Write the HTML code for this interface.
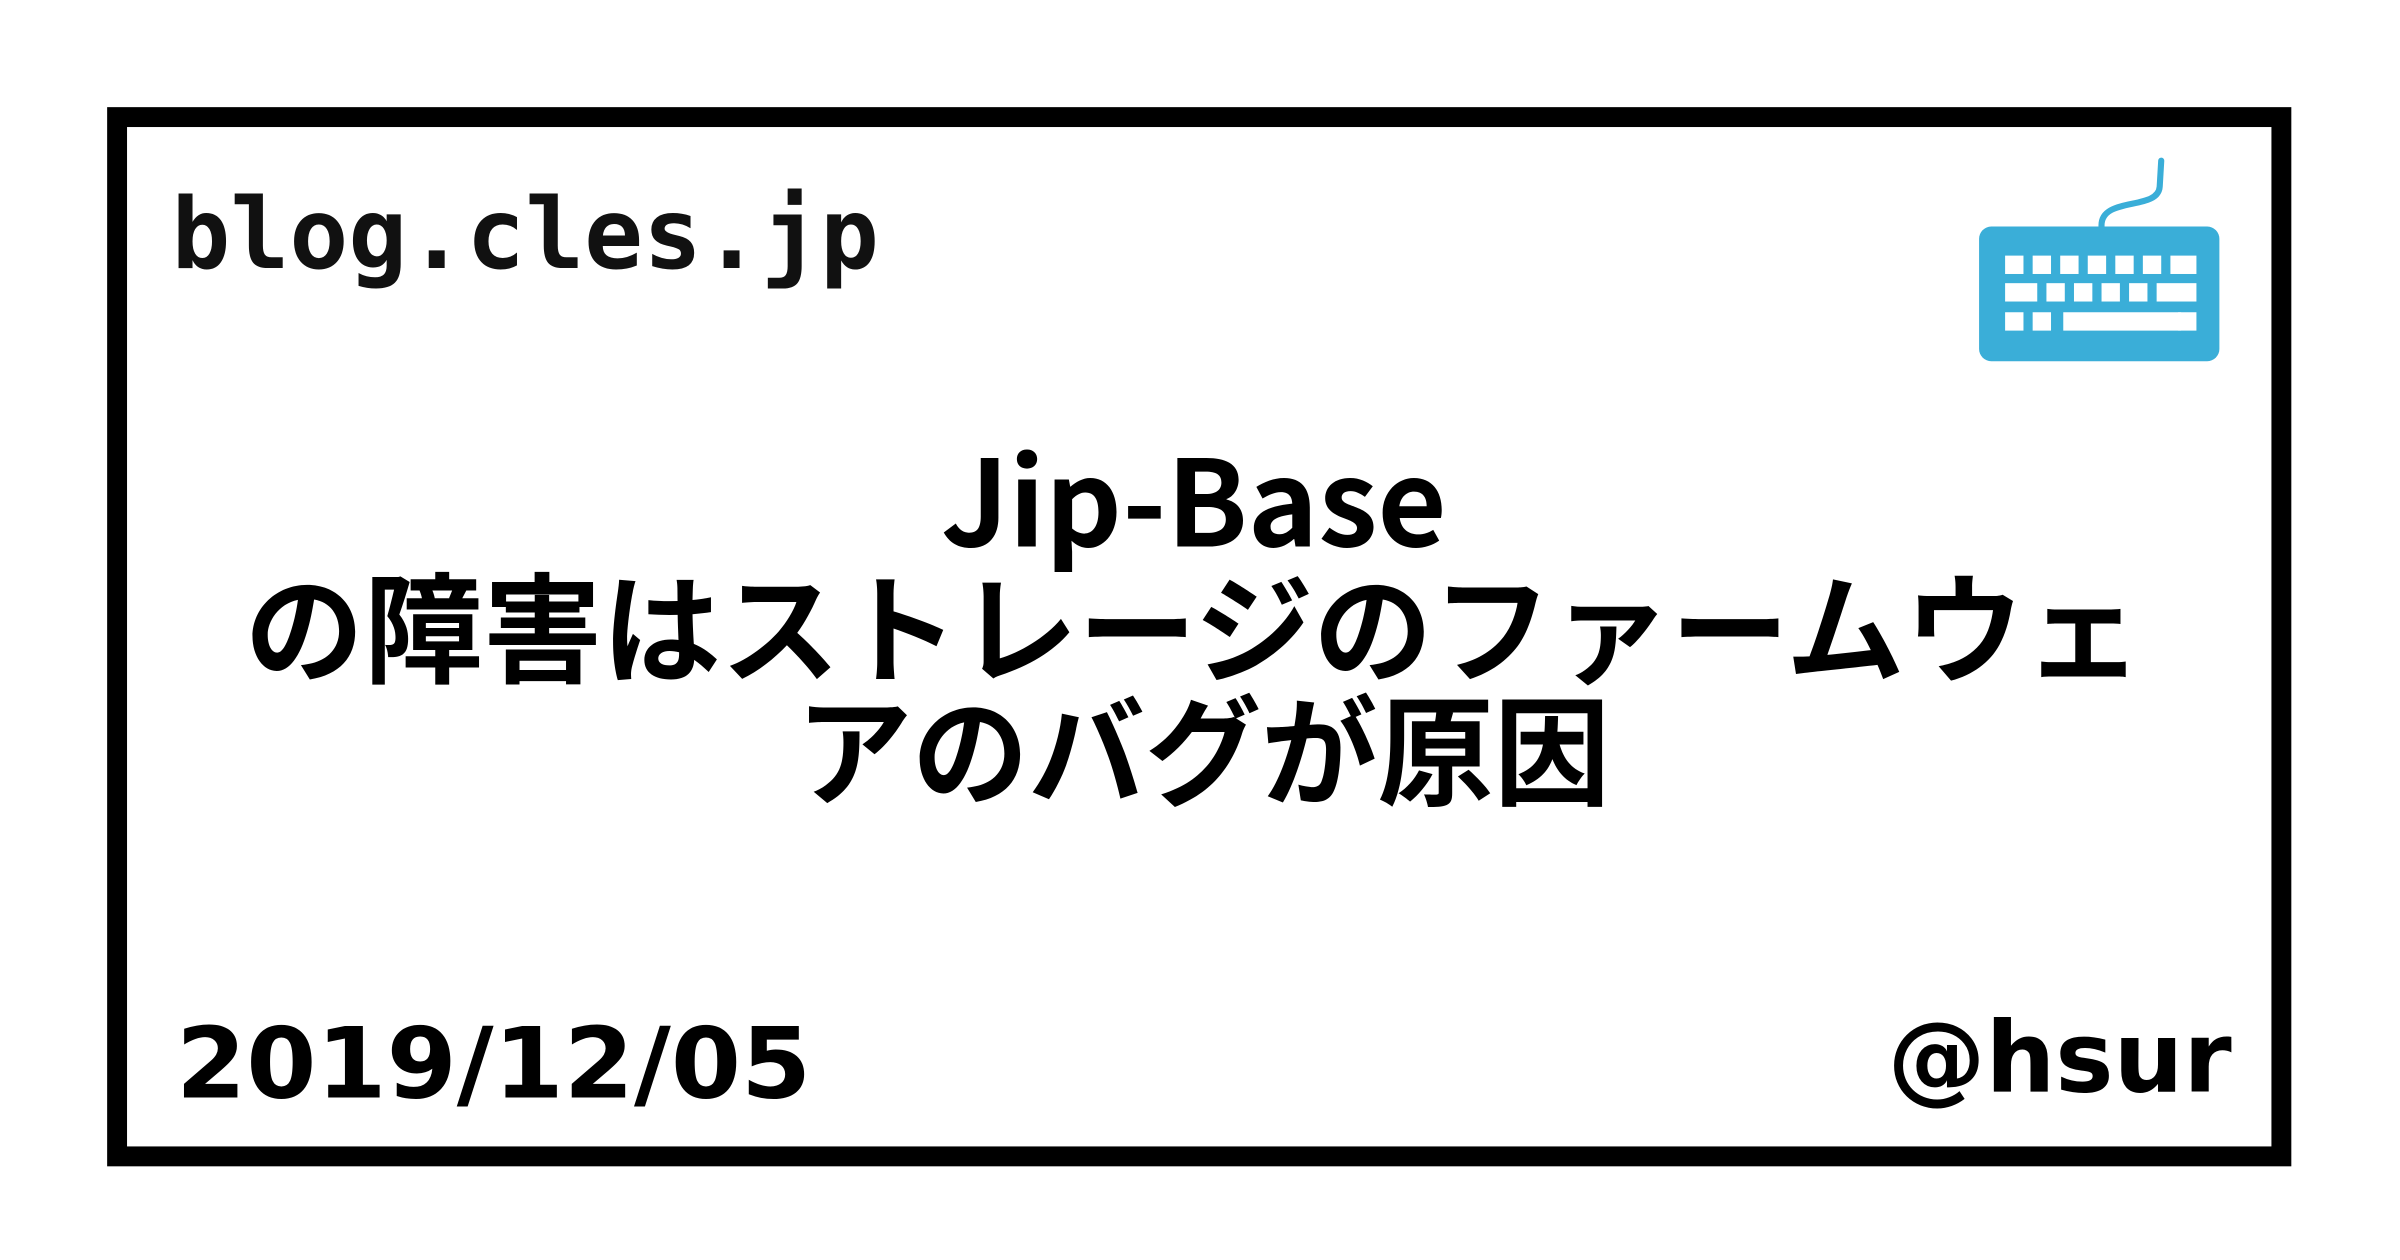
<!DOCTYPE html>
<html><head><meta charset="utf-8"><style>
html,body{margin:0;padding:0;background:#fff;width:2400px;height:1260px;overflow:hidden}
svg{display:block}
</style></head><body>
<svg width="2400" height="1260" viewBox="0 0 1568 823.2" xmlns="http://www.w3.org/2000/svg">
<rect x="0" y="0" width="1568" height="823.2" fill="#fff"/>
<rect x="76.5" y="76.5" width="1414" height="679" fill="none" stroke="#000" stroke-width="13"/>
<text x="112" y="175" font-family="'DejaVu Sans Mono','Liberation Mono',monospace" font-weight="bold" font-size="64" fill="#111">blog.cles.jp</text>
<g font-family="'Noto Sans CJK JP','DejaVu Sans',sans-serif" font-weight="bold" font-size="78" fill="#000">
<text x="780" y="357" text-anchor="middle">Jip-Base</text>
<text x="160" y="440" textLength="1240" lengthAdjust="spacingAndGlyphs">の障害はストレージのファームウェ</text>
<text x="520" y="520" textLength="532" lengthAdjust="spacingAndGlyphs">アのバグが原因</text>
</g>
<text x="115" y="717" textLength="415" lengthAdjust="spacingAndGlyphs" font-family="'DejaVu Sans','Liberation Sans',sans-serif" font-weight="bold" font-size="64" fill="#000">2019/12/05</text>
<text x="1458" y="713" text-anchor="end" font-family="'DejaVu Sans','Liberation Sans',sans-serif" font-weight="bold" font-size="64" fill="#000">@hsur</text>
<path d="M1373 148 C1372 128 1410 138 1411 122 L1412 105" fill="none" stroke="#3aaed8" stroke-width="4" stroke-linecap="round"/>
<rect x="1293" y="148" width="157" height="88" rx="8" fill="#3aaed8"/>
<g fill="#fff">
<rect x="1310" y="167" width="12" height="12"/><rect x="1328" y="167" width="12" height="12"/><rect x="1346" y="167" width="12" height="12"/><rect x="1364" y="167" width="12" height="12"/><rect x="1382" y="167" width="12" height="12"/><rect x="1400" y="167" width="12" height="12"/><rect x="1418" y="167" width="17" height="12"/>
<rect x="1310" y="185" width="21" height="12"/><rect x="1337" y="185" width="12" height="12"/><rect x="1355" y="185" width="12" height="12"/><rect x="1373" y="185" width="12" height="12"/><rect x="1391" y="185" width="12" height="12"/><rect x="1409" y="185" width="26" height="12"/>
<rect x="1310" y="204" width="12" height="12"/><rect x="1328" y="204" width="12" height="12"/><rect x="1348" y="204" width="77" height="12"/><rect x="1423" y="204" width="12" height="12"/>
</g>
</svg>
</body></html>
